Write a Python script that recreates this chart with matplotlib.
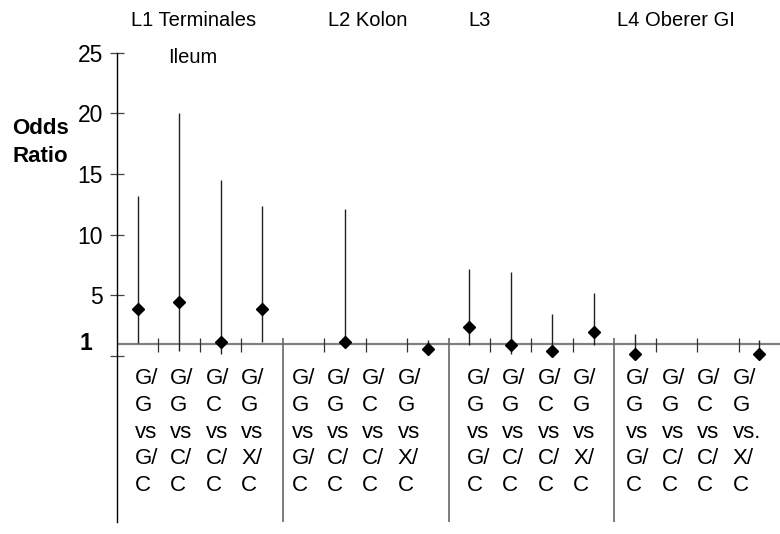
import numpy as np
import matplotlib
matplotlib.use("Agg")
import matplotlib.pyplot as plt

plt.rcParams['font.family'] = ['Liberation Sans', 'DejaVu Sans']

# ---------------- data ----------------
groups = ["L1 Terminales", "L2 Kolon", "L3", "L4 Oberer GI"]
group_subtitle = "Ileum"
comparisons = ["G/\nG\nvs\nG/\nC", "G/\nG\nvs\nC/\nC", "G/\nC\nvs\nC/\nC", "G/\nG\nvs\nX/\nC"]
comparisons_l4 = ["G/\nG\nvs\nG/\nC", "G/\nG\nvs\nC/\nC", "G/\nC\nvs\nC/\nC", "G/\nG\nvs.\nX/\nC"]

or_l1 = [3.85, 4.45, 1.13, 3.9]
lo_l1 = [1.1, 0.45, 0.16, 1.18]
hi_l1 = [13.2, 20.0, 14.5, 12.35]

or_l2 = [np.nan, 1.13, np.nan, 0.58]
lo_l2 = [np.nan, 0.75, np.nan, 0.33]
hi_l2 = [np.nan, 12.1, np.nan, 1.3]

or_l3 = [2.41, 0.93, 0.44, 2.0]
lo_l3 = [0.9, 0.16, 0.44, 0.9]
hi_l3 = [7.2, 6.9, 3.5, 5.15]

or_l4 = [0.16, np.nan, np.nan, 0.16]
lo_l4 = [0.16, np.nan, np.nan, 0.16]
hi_l4 = [1.8, np.nan, np.nan, 1.3]

y_ticks = [0, 5, 10, 15, 20, 25]
y_ticklabels = ["", "5", "10", "15", "20", "25"]

# ---------------- figure ----------------
W, H = 780, 534
fig = plt.figure(figsize=(W / 100, H / 100), dpi=100)
ax_left, ax_right = 117, 780
ax_top, ax_bottom = 52.5, 522
ax = fig.add_axes([ax_left / W, 1 - ax_bottom / H, (ax_right - ax_left) / W, (ax_bottom - ax_top) / H])

y_bottom = -(ax_bottom - 356) / ((356 - ax_top) / 25)
ax.set_xlim(0, 16)
ax.set_ylim(y_bottom, 25)

for s in ["top", "right", "bottom"]:
    ax.spines[s].set_visible(False)
ax.spines["left"].set_color("black")
ax.spines["left"].set_linewidth(1.0)
ax.set_xticks([])
ax.set_yticks(y_ticks)
ax.set_yticklabels(y_ticklabels, fontsize=16.5)
ax.tick_params(axis="y", direction="inout", length=10, width=0.9, color="#444444", pad=5)

# reference line at OR = 1
ax.axhline(1, color="#808080", lw=1.6, zorder=1)

series = [(or_l1, lo_l1, hi_l1), (or_l2, lo_l2, hi_l2), (or_l3, lo_l3, hi_l3), (or_l4, lo_l4, hi_l4)]
tick_lo, tick_hi = 0.33, 1.48
for g, (vals, los, his) in enumerate(series):
    base = 4 * g
    xs = base + np.arange(4) + 0.5
    vals = np.array(vals, dtype=float)
    los = np.array(los, dtype=float)
    his = np.array(his, dtype=float)
    ok = ~np.isnan(vals)
    ax.vlines(xs[ok], los[ok], his[ok], color="#222222", lw=1.0, zorder=2)
    ax.plot(xs[ok], vals[ok], linestyle="none", marker="D", markersize=6.2,
            color="black", zorder=3)
    # slot ticks on the baseline
    ax.vlines(base + np.array([1, 2, 3]), tick_lo, tick_hi, color="#333333", lw=0.9, zorder=2)
    # separators
    if g > 0:
        ax.vlines(base, y_bottom, tick_hi, color="#666666", lw=1.2, zorder=2)

# x category labels
label_offsets = [0.43, 0.21, 0.44, 0.29]
label_step = 0.855
for g in range(4):
    labs = comparisons_l4 if g == 3 else comparisons
    for k, lab in enumerate(labs):
        ax.text(4 * g + label_offsets[g] + k * label_step, -1.0, lab,
                ha="left", va="top", fontsize=16, linespacing=1.36, color="black")

# group titles at top
title_x = [131, 328, 468, 617]
for g, t in enumerate(groups):
    fig.text(title_x[g] / W, 1 - 20.5 / H, t, ha="left", va="center", fontsize=14.5,
             color="black")
fig.text(168 / W, 1 - 57.5 / H, group_subtitle, ha="left", va="center", fontsize=14.5,
         color="black")

# bold "1" label on the y axis
ax.text(-0.038, 1, "1", transform=ax.get_yaxis_transform(), ha="right", va="center",
        fontsize=16.5, fontweight="bold")

# y axis title
fig.text(12 / W, 1 - 129 / H, "Odds", ha="left", va="center", fontsize=16,
         fontweight="bold")
fig.text(12 / W, 1 - 157 / H, "Ratio", ha="left", va="center", fontsize=16,
         fontweight="bold")

fig.savefig("out.png", dpi=100)
